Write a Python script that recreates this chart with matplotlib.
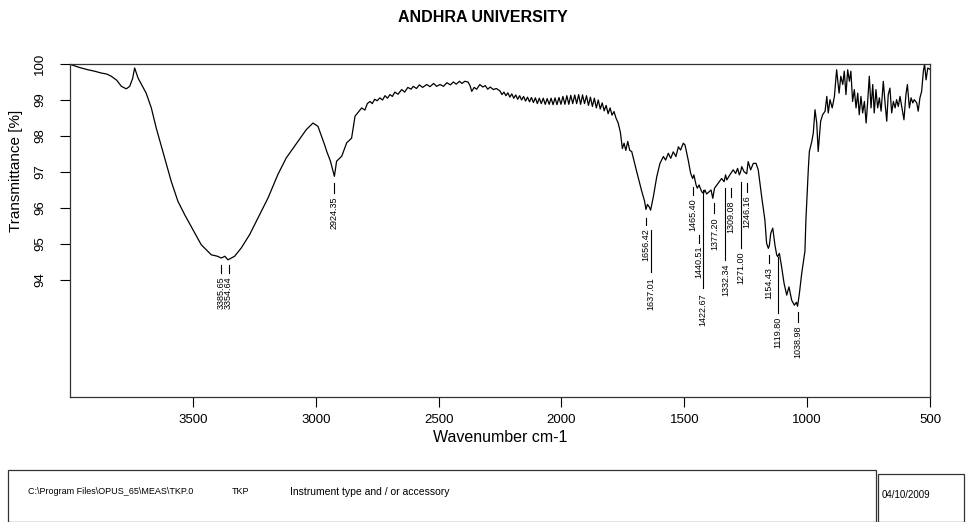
import matplotlib.pyplot as plt
from matplotlib.patches import Rectangle

plt.rcParams['font.family'] = ['Liberation Sans', 'DejaVu Sans']

# spectrum: wavenumber (cm-1), transmittance (%)
wavenumber = [
    3995, 3960, 3927, 3900, 3873, 3850, 3832, 3810, 3791, 3771, 3757, 3745, 3737, 3723,
    3690, 3669, 3649, 3615, 3588, 3561, 3533, 3500, 3466, 3425, 3400, 3384, 3370,
    3357, 3330, 3303, 3269, 3235, 3194, 3154, 3120, 3072, 3038, 3011, 2991, 2964,
    2955, 2940, 2924, 2915, 2894, 2874, 2854, 2840, 2813, 2800, 2790, 2779, 2770,
    2760, 2750, 2739, 2728, 2718, 2708, 2698, 2688, 2678, 2665, 2650, 2638, 2625,
    2612, 2603, 2590, 2578, 2565, 2548, 2535, 2520, 2508, 2494, 2480, 2466, 2452,
    2440, 2428, 2415, 2405, 2393, 2380, 2372, 2365, 2355, 2345, 2332, 2320, 2310,
    2300, 2290, 2277, 2265,
    2250, 2242, 2234, 2226, 2218, 2210, 2202, 2194, 2186, 2178, 2170, 2162, 2154,
    2146, 2138, 2130, 2122, 2114, 2106, 2098, 2090, 2082, 2074, 2066, 2058, 2050,
    2042, 2034, 2026, 2018, 2010, 2002, 1994, 1986, 1978, 1970, 1962, 1954, 1946,
    1938, 1930, 1922, 1914, 1906, 1898, 1890, 1882, 1874, 1866, 1858, 1850, 1842,
    1834, 1826, 1818, 1810, 1802, 1794, 1786, 1778,
    1769, 1760, 1752, 1745, 1738, 1730, 1722, 1714, 1694, 1673, 1662, 1656, 1650,
    1642, 1637, 1626, 1612, 1599, 1585, 1576, 1565, 1555, 1545, 1534, 1524, 1515,
    1504, 1497, 1484, 1474, 1466, 1461, 1452, 1447, 1440, 1429, 1422, 1416, 1409,
    1399, 1391, 1384, 1377, 1362, 1348, 1338, 1332, 1327, 1321, 1311, 1301, 1291,
    1283, 1276, 1271, 1266, 1257, 1246, 1240, 1230, 1219, 1208, 1199, 1185, 1172,
    1165, 1158, 1154, 1148, 1140, 1131, 1124, 1120, 1113, 1104, 1094, 1083, 1074,
    1063, 1052, 1044, 1039, 1032, 1022, 1009, 1005, 995, 991, 981, 975, 968, 961,
    955, 945, 937, 927, 920, 914, 907, 898, 889, 880, 870, 863, 855, 849, 842, 835,
    828, 822, 815, 808, 801, 794, 788, 781, 774, 767, 760, 754, 747, 740, 733, 727,
    720, 713, 706, 699, 690, 683, 676, 670, 663, 656, 649, 642, 636, 629, 622, 613,
    606, 598, 592, 584, 577, 570, 564, 554, 548, 541, 534, 527, 522, 516, 509, 500,
]
transmittance = [
    99.98, 99.9, 99.84, 99.8, 99.75, 99.72, 99.66, 99.55, 99.38, 99.31, 99.38, 99.6, 99.89, 99.61,
    99.19, 98.78, 98.22, 97.39, 96.74, 96.19, 95.81, 95.40, 94.98, 94.70, 94.66, 94.61, 94.66,
    94.56, 94.66, 94.89, 95.26, 95.72, 96.28, 96.93, 97.39, 97.85, 98.18, 98.36, 98.27, 97.76,
    97.57, 97.3, 96.88, 97.30, 97.44, 97.81, 97.94, 98.55, 98.78, 98.72, 98.9, 98.96, 98.9,
    99.02, 98.98, 99.06, 99.0, 99.12, 99.05, 99.15, 99.1, 99.22, 99.16, 99.29, 99.22, 99.35,
    99.3, 99.38, 99.32, 99.42, 99.35, 99.43, 99.37, 99.46, 99.38, 99.43, 99.38, 99.48, 99.42,
    99.5, 99.44, 99.52, 99.46, 99.52, 99.5, 99.4, 99.24, 99.35, 99.3, 99.43, 99.36, 99.4,
    99.3, 99.36, 99.29, 99.32,
    99.25, 99.15, 99.22, 99.12, 99.2, 99.08, 99.17, 99.05, 99.14, 99.02, 99.12, 99.0, 99.1,
    98.97, 99.08, 98.95, 99.07, 98.93, 99.06, 98.9, 99.05, 98.9, 99.05, 98.88, 99.04, 98.88,
    99.05, 98.87, 99.06, 98.87, 99.07, 98.88, 99.1, 98.88, 99.12, 98.88, 99.13, 98.9, 99.14,
    98.9, 99.15, 98.88, 99.14, 98.9, 99.12, 98.85, 99.08, 98.82, 99.05, 98.78, 99.0, 98.75,
    98.92, 98.7, 98.85, 98.62, 98.78, 98.58, 98.68, 98.5,
    98.36, 98.1, 97.65, 97.8, 97.6, 97.85, 97.6, 97.57, 97.02, 96.46, 96.2, 95.96, 96.1,
    96.02, 95.94, 96.31, 96.87, 97.24, 97.43, 97.33, 97.52, 97.38, 97.56, 97.43, 97.70, 97.61,
    97.80, 97.75, 97.33, 96.96, 96.82, 96.92, 96.64, 96.55, 96.64, 96.45, 96.41, 96.5, 96.39,
    96.45, 96.5, 96.27, 96.55, 96.69, 96.82, 96.73, 96.92, 96.78, 96.85, 96.96, 97.06, 96.96,
    97.10, 96.92, 97.0, 97.15, 97.01, 96.95, 97.29, 97.06, 97.24, 97.24, 97.06, 96.31, 95.67,
    95.02, 94.88, 94.95, 95.30, 95.44, 94.97, 94.7, 94.65, 94.74, 94.37, 93.91, 93.58, 93.81,
    93.44, 93.30, 93.38, 93.27, 93.6, 94.19, 94.8, 95.67, 97.11, 97.57, 97.85, 98.08, 98.73, 98.36,
    97.57, 98.41, 98.59, 98.69, 99.10, 98.64, 99.01, 98.78, 99.10, 99.84, 99.19, 99.66, 99.43, 99.80,
    99.15, 99.84, 99.52, 99.80, 98.96, 99.29, 98.78, 99.19, 98.59, 99.10, 98.64, 98.96, 98.36, 98.92,
    99.66, 98.78, 99.43, 98.64, 99.29, 98.78, 99.06, 98.69, 99.52, 98.92, 98.41, 99.15, 99.33, 98.64,
    98.96, 98.78, 99.01, 98.82, 99.10, 98.73, 98.45, 99.15, 99.43, 98.78, 99.06, 98.92, 99.01, 98.92,
    98.69, 99.06, 99.24, 99.80, 100.0, 99.56, 99.89, 99.85,
]

# peak labels: position, dash top, dash bottom, text top (all in % units)
peak_wn = [3385.65, 3354.64, 2924.35, 1656.42, 1637.01, 1465.40, 1440.51, 1422.67,
           1377.20, 1332.34, 1309.08, 1271.00, 1246.16, 1154.43, 1119.80, 1038.98]
peak_dash_top = [94.42, 94.42, 96.69, 95.72, 95.39, 96.58, 95.25, 96.50,
                 96.14, 96.56, 96.56, 96.72, 96.69, 94.69, 94.64, 93.11]
peak_dash_bot = [94.19, 94.19, 96.42, 95.53, 94.22, 96.36, 95.03, 93.78,
                 95.86, 94.56, 96.31, 94.89, 96.44, 94.47, 93.08, 92.83]
peak_text_top = [94.11, 94.11, 96.31, 95.44, 94.08, 96.28, 94.97, 93.64,
                 95.75, 94.47, 96.22, 94.78, 96.36, 94.36, 92.97, 92.75]

xticks = [3500, 3000, 2500, 2000, 1500, 1000, 500]
yticks = [94, 95, 96, 97, 98, 99, 100]

fig = plt.figure(figsize=(9.66, 5.22), dpi=100)
ax = fig.add_axes([70 / 966, 1 - 397 / 522, 860 / 966, 333 / 522])

ax.plot(wavenumber, transmittance, color='black', lw=0.9)
ax.set_xlim(4000, 500)
ax.set_ylim(90.75, 100)

for x, t0, t1, tt in zip(peak_wn, peak_dash_top, peak_dash_bot, peak_text_top):
    ax.plot([x, x], [t0, t1], color='black', lw=0.8)
    lbl = '%.2f' % x
    ax.text(x, tt, lbl, rotation=90, ha='center', va='top', fontsize=6.5)

ax.set_xticks(xticks)
ax.set_yticks(yticks)
ax.set_yticklabels([str(v) for v in yticks], rotation=90, va='center')
ax.tick_params(axis='both', direction='out', length=7, width=0.8, labelsize=9.5)
ax.tick_params(axis='x', pad=5)
ax.tick_params(axis='y', pad=10)
for s in ax.spines.values():
    s.set_linewidth(0.9)
    s.set_color('#333333')

ax.set_xlabel('Wavenumber cm-1', fontsize=11.5, labelpad=3)
ax.set_ylabel('Transmittance [%]', fontsize=11)
ax.yaxis.set_label_coords(-0.055, 0.68)

fig.text(0.5, 1 - 18 / 522, 'ANDHRA UNIVERSITY', ha='center', va='center',
         fontsize=11.5, fontweight='bold')

# footer boxes
fig.patches.append(Rectangle((8 / 966, 0), 868 / 966, 52 / 522, transform=fig.transFigure,
                             fill=False, edgecolor='#333333', lw=0.9))
fig.patches.append(Rectangle((878 / 966, 0), 86 / 966, 48 / 522, transform=fig.transFigure,
                             fill=False, edgecolor='#333333', lw=0.9))
footer_y = 1 - 492 / 522
fig.text(28 / 966, footer_y, 'C:\\Program Files\\OPUS_65\\MEAS\\TKP.0', fontsize=6.5, va='center')
fig.text(232 / 966, footer_y, 'TKP', fontsize=6.5, va='center')
fig.text(290 / 966, footer_y, 'Instrument type and / or accessory', fontsize=7.5, va='center')
fig.text(882 / 966, 1 - 495 / 522, '04/10/2009', fontsize=7, va='center')

fig.savefig('out.png', dpi=100)
